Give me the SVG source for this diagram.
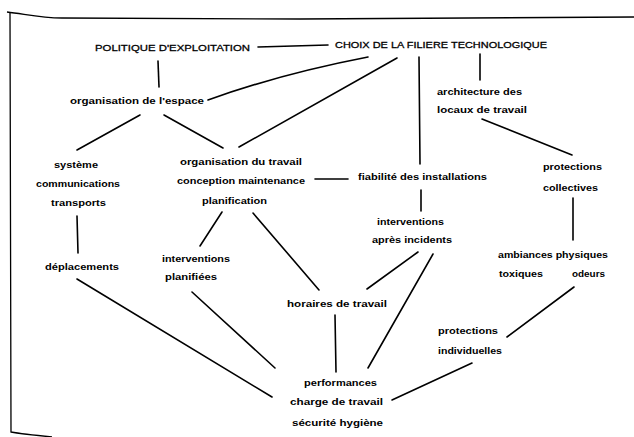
<svg xmlns="http://www.w3.org/2000/svg" width="634" height="437" viewBox="0 0 634 437">
<style>
text{font-family:"Liberation Sans",Arial,sans-serif;font-weight:bold;font-size:9px;fill:#000;text-anchor:middle}
.cap{font-size:9.5px;font-weight:normal;stroke:#000;stroke-width:0.3}
.ln{stroke:#000;stroke-width:1.6;fill:none;stroke-linecap:round}
.fr{stroke:#000;stroke-width:1.3;fill:none}
</style>
<rect width="634" height="437" fill="#fff"/>
<g id="frame">
<path class="fr" d="M7,12 C25,14 40,18 62,18 L300,19 L634,17"/>
<path class="fr" d="M10,13 L11,432 Q22,434 52,437"/>
</g>
<g id="connectors">
<line class="ln" x1="258" y1="47" x2="328" y2="45"/>
<line class="ln" x1="158" y1="61" x2="159" y2="87"/>
<path class="ln" d="M208,100 Q280,74 368,57"/>
<line class="ln" x1="397" y1="58" x2="239" y2="147"/>
<line class="ln" x1="419" y1="57" x2="420" y2="164"/>
<line class="ln" x1="480" y1="54" x2="480" y2="80"/>
<line class="ln" x1="482" y1="119" x2="572" y2="155"/>
<line class="ln" x1="140" y1="115" x2="77" y2="150"/>
<line class="ln" x1="164" y1="115" x2="223" y2="148"/>
<line class="ln" x1="77" y1="216" x2="78" y2="253"/>
<line class="ln" x1="315" y1="179" x2="348" y2="179"/>
<line class="ln" x1="421" y1="190" x2="421" y2="211"/>
<line class="ln" x1="222" y1="212" x2="200" y2="246"/>
<line class="ln" x1="253" y1="213" x2="319" y2="290"/>
<line class="ln" x1="418" y1="252" x2="367" y2="289"/>
<line class="ln" x1="433" y1="254" x2="368" y2="368"/>
<line class="ln" x1="573" y1="198" x2="573" y2="240"/>
<line class="ln" x1="574" y1="287" x2="507" y2="337"/>
<line class="ln" x1="77" y1="279" x2="272" y2="397"/>
<line class="ln" x1="192" y1="292" x2="275" y2="368"/>
<line class="ln" x1="335" y1="315" x2="336" y2="372"/>
<line class="ln" x1="472" y1="363" x2="392" y2="400"/>
</g>
<g id="politique"><text class="cap" x="172.5" y="51" textLength="155" lengthAdjust="spacingAndGlyphs">POLITIQUE D'EXPLOITATION</text></g>
<g id="choix"><text class="cap" x="441" y="48" textLength="212" lengthAdjust="spacingAndGlyphs">CHOIX DE LA FILIERE TECHNOLOGIQUE</text></g>
<g id="espace"><text x="137" y="104" textLength="134" lengthAdjust="spacingAndGlyphs">organisation de l'espace</text></g>
<g id="architecture">
<text x="479.5" y="95" textLength="85" lengthAdjust="spacingAndGlyphs">architecture des</text>
<text x="482" y="113" textLength="90" lengthAdjust="spacingAndGlyphs">locaux de travail</text>
</g>
<g id="systeme">
<text x="76" y="168" textLength="44" lengthAdjust="spacingAndGlyphs">système</text>
<text x="78" y="187" textLength="84" lengthAdjust="spacingAndGlyphs">communications</text>
<text x="78.5" y="206" textLength="55" lengthAdjust="spacingAndGlyphs">transports</text>
</g>
<g id="deplacements"><text x="82" y="270" textLength="74" lengthAdjust="spacingAndGlyphs">déplacements</text></g>
<g id="organisation-travail">
<text x="241" y="165" textLength="122" lengthAdjust="spacingAndGlyphs">organisation du travail</text>
<text x="241" y="184" textLength="128" lengthAdjust="spacingAndGlyphs">conception maintenance</text>
<text x="234.5" y="204" textLength="65" lengthAdjust="spacingAndGlyphs">planification</text>
</g>
<g id="fiabilite"><text x="422.5" y="180" textLength="129" lengthAdjust="spacingAndGlyphs">fiabilité des installations</text></g>
<g id="interventions-incidents">
<text x="410.5" y="225" textLength="67" lengthAdjust="spacingAndGlyphs">interventions</text>
<text x="412" y="243" textLength="80" lengthAdjust="spacingAndGlyphs">après incidents</text>
</g>
<g id="protections-collectives">
<text x="572.5" y="170" textLength="59" lengthAdjust="spacingAndGlyphs">protections</text>
<text x="570.5" y="191" textLength="55" lengthAdjust="spacingAndGlyphs">collectives</text>
</g>
<g id="ambiances">
<text x="553" y="258" textLength="110" lengthAdjust="spacingAndGlyphs">ambiances physiques</text>
<text x="521" y="277" textLength="44" lengthAdjust="spacingAndGlyphs">toxiques</text>
<text x="588.5" y="277" textLength="33" lengthAdjust="spacingAndGlyphs">odeurs</text>
</g>
<g id="interventions-planifiees">
<text x="196" y="262" textLength="68" lengthAdjust="spacingAndGlyphs">interventions</text>
<text x="191" y="280" textLength="52" lengthAdjust="spacingAndGlyphs">planifiées</text>
</g>
<g id="horaires"><text x="337" y="307" textLength="100" lengthAdjust="spacingAndGlyphs">horaires de travail</text></g>
<g id="protections-individuelles">
<text x="468" y="334" textLength="60" lengthAdjust="spacingAndGlyphs">protections</text>
<text x="470" y="354" textLength="64" lengthAdjust="spacingAndGlyphs">individuelles</text>
</g>
<g id="performances">
<text x="340.5" y="386" textLength="73" lengthAdjust="spacingAndGlyphs">performances</text>
<text x="336.5" y="405" textLength="93" lengthAdjust="spacingAndGlyphs">charge de travail</text>
<text x="337.5" y="426" textLength="91" lengthAdjust="spacingAndGlyphs">sécurité  hygiène</text>
</g>
</svg>
